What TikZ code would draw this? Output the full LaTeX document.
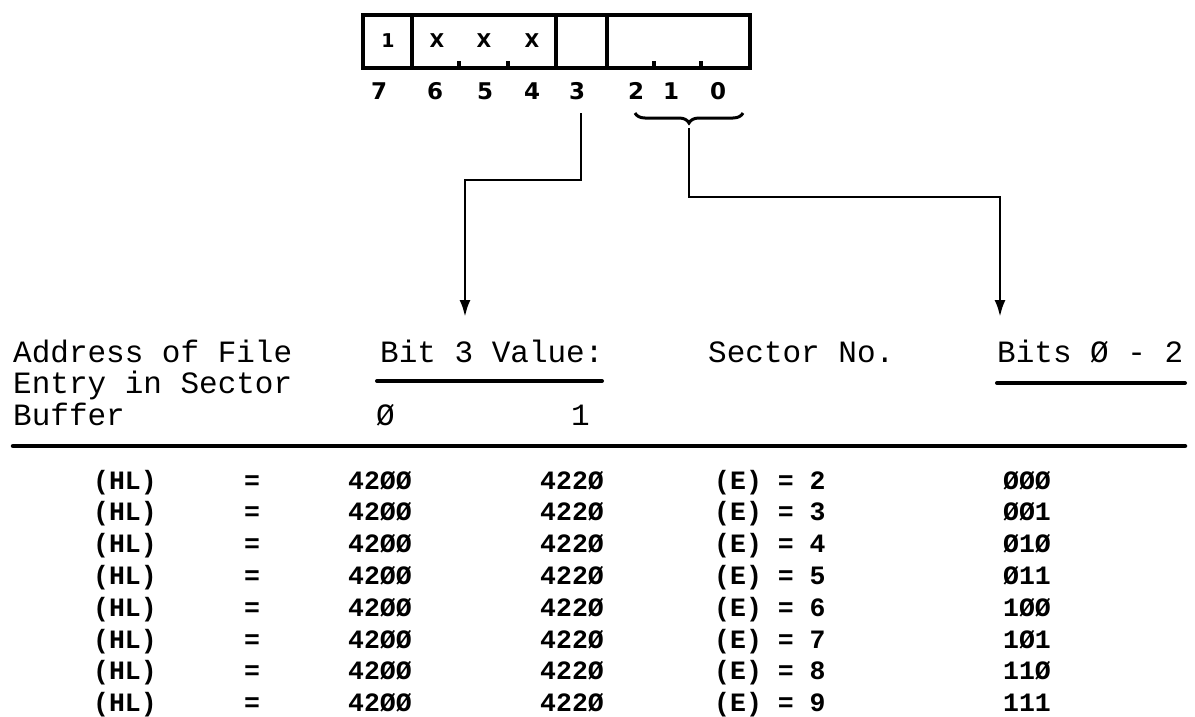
\documentclass[tikz,border=0pt]{standalone}
\usepackage{fontspec}
\newfontfamily\regmono{Liberation Mono}
\newfontfamily\regsans{DejaVu Sans}
\usetikzlibrary{arrows.meta,decorations.pathreplacing}
\begin{document}
\begin{tikzpicture}[x=1pt,y=-1pt,
  hdr/.style={font=\regmono\fontsize{31}{31}\selectfont, inner sep=0pt, anchor=base west},
  cell/.style={font=\regmono\bfseries\fontsize{26.5}{26.5}\selectfont, inner sep=0pt, anchor=base},
  cellw/.style={cell, anchor=base west},
  bitlbl/.style={font=\regsans\bfseries\fontsize{23}{23}\selectfont, inner sep=0pt},
  boxtxt/.style={font=\regsans\bfseries\fontsize{19}{19}\selectfont, inner sep=0pt},
  boxline/.style={line width=4.5pt},
  tick/.style={line width=4pt},
  conn/.style={line width=2.8pt},
  arr/.style={conn,-{Latex[length=17pt,width=11pt]}},
  rulel/.style={line width=4pt, line cap=round}
]
\useasboundingbox (0,0) rectangle (1195,717);

% register
\draw[boxline] (363,15) rectangle (750,68);
\draw[boxline] (412,15) -- (412,68);
\draw[boxline] (556,15) -- (556,68);
\draw[boxline] (607,15) -- (607,68);
\foreach \x in {459,508,654,701} \draw[tick] (\x,68) -- (\x,61);

\node[boxtxt] (v7) at (388,41) {1};
\node[boxtxt] (v6) at (437,41) {X};
\node[boxtxt] (v5) at (484,41) {X};
\node[boxtxt] (v4) at (532,41) {X};

\node[bitlbl] (b7) at (379,91) {7};
\node[bitlbl] (b6) at (435,91) {6};
\node[bitlbl] (b5) at (485,91) {5};
\node[bitlbl] (b4) at (532,91) {4};
\node[bitlbl] (b3) at (577,91) {3};
\node[bitlbl] (b2) at (636,91) {2};
\node[bitlbl] (b1) at (671,91) {1};
\node[bitlbl] (b0) at (718,91) {0};

% brace
\draw[line width=3pt, decorate, decoration={brace, mirror, amplitude=10pt}] (635,113) -- (743,113);

% headers
\node[hdr] (addr1) at (13,362) {Address of File};
\node[hdr] (addr2) at (13,393) {Entry in Sector};
\node[hdr] (addr3) at (13,425) {Buffer};
\node[hdr] (b3v) at (380,362) {Bit 3 Value:};
\node[hdr] (b3z) at (376,425) {Ø};
\node[hdr] (b3o) at (571,425) {1};
\node[hdr] (secno) at (708,362) {Sector No.};
\node[hdr] (bits) at (997,362) {Bits Ø - 2};

\draw[rulel] (377,381) -- (602,381);
\draw[rulel] (997,383) -- (1185,383);
\draw[rulel, line width=4.5pt] (13,446) -- (1185,446);

% connectors
\coordinate (c3a) at (581,113);
\coordinate (c3b) at (581,180);
\coordinate (c3c) at (465,180);
\coordinate (c3d) at (465,317);
\draw[arr] (c3a) -- (c3b) -- (c3c) -- (c3d);

\coordinate (cba) at (689,128);
\coordinate (cbb) at (689,197);
\coordinate (cbc) at (1000,197);
\coordinate (cbd) at (1000,317);
\draw[arr] (cba) -- (cbb) -- (cbc) -- (cbd);

% rows
\foreach \i/\e/\b in {0/2/ØØØ,1/3/ØØ1,2/4/Ø1Ø,3/5/Ø11,4/6/1ØØ,5/7/1Ø1,6/8/11Ø,7/9/111} {
  \pgfmathsetmacro{\y}{489+31.8*\i}
  \node[cell] (hl\i) at (125,\y) {(HL)};
  \node[cell] (eq\i) at (252,\y) {=};
  \node[cell] (a\i) at (380,\y) {42ØØ};
  \node[cell] (c\i) at (572,\y) {422Ø};
  \node[cellw] (e\i) at (714,\y) {(E) = \e};
  \node[cell] (s\i) at (1027,\y) {\b};
}
\end{tikzpicture}
\end{document}
